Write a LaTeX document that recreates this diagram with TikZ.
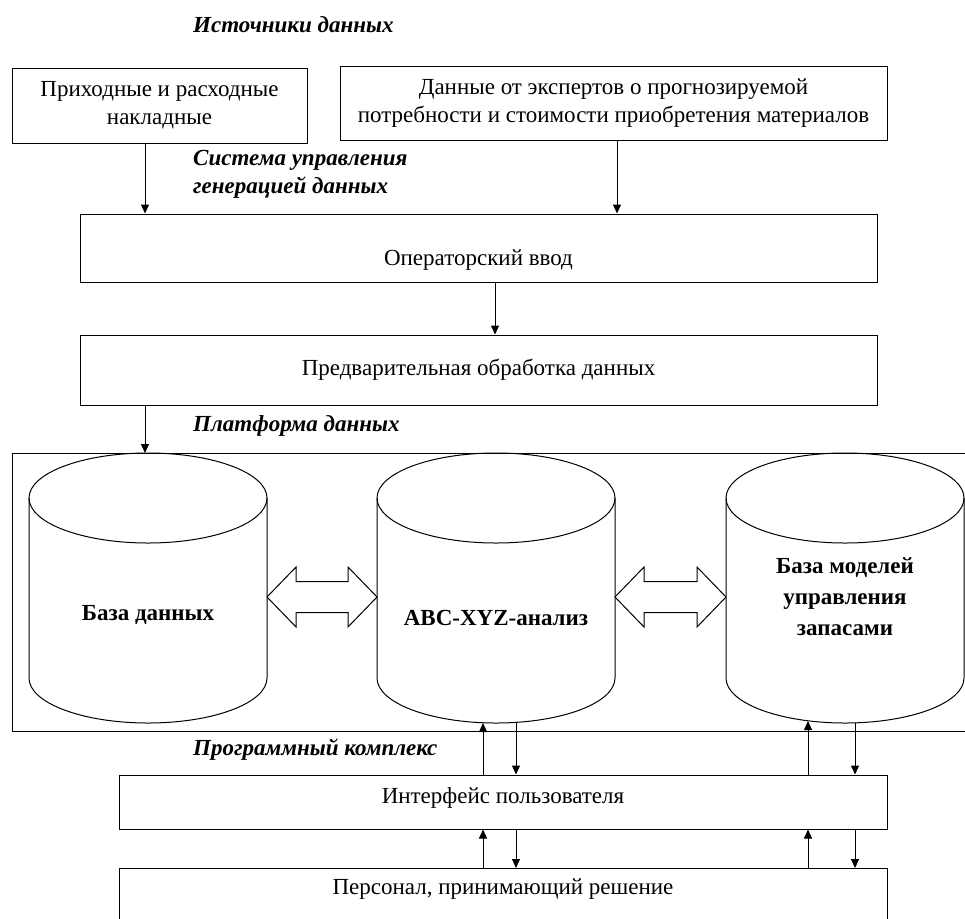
\documentclass[tikz,border=0pt]{standalone}
\usepackage{fontspec}
\setmainfont{Liberation Serif}
\usetikzlibrary{arrows.meta,positioning}

\begin{document}
\begin{tikzpicture}[x=1pt,y=-1pt,
    font=\fontsize{23}{28}\selectfont,
    box/.style={draw,line width=1pt,align=center,inner sep=0pt},
    head/.style={font=\fontsize{23}{28}\selectfont\bfseries\itshape,anchor=west,align=left,inner sep=0pt},
    cyltext/.style={font=\fontsize{23}{31}\selectfont\bfseries,align=center,inner sep=0pt},
    arr/.style={-{Triangle[length=9pt,width=8pt]},line width=1pt}]
  \useasboundingbox (0,0) rectangle (965,918);

  % sources
  \node[head] (srchead) at (193,25) {Источники данных};
  \node[box,minimum width=295pt,minimum height=75pt] (invoices) at (159.5,105.5) {Приходные и расходные\\накладные};
  \node[box,minimum width=547pt,minimum height=74pt] (experts) at (613.5,103) {Данные от экспертов о прогнозируемой\\потребности и стоимости приобретения материалов};

  % data generation
  \node[head] (genhead) at (193,174) {Система управления\\генерацией данных};
  \node[box,minimum width=797pt,minimum height=68pt,text height=40pt] (oper) at (478.5,248) {Операторский  ввод};
  \node[box,minimum width=797pt,minimum height=70pt] (prep) at (478.5,370) {Предварительная  обработка данных};

  \draw[arr] (145,0 |- invoices.south) -- (145,0 |- oper.north);
  \draw[arr] (617,0 |- experts.south) -- (617,0 |- oper.north);
  \draw[arr] (495,0 |- oper.south) -- (495,0 |- prep.north);

  % platform
  \node[head] (plathead) at (193,426) {Платформа данных};
  \node[draw,line width=1pt,anchor=north west,minimum width=956pt,minimum height=278pt,inner sep=0pt] (platform) at (12,453) {};
  \draw[arr] (145,0 |- prep.south) -- (145,0 |- platform.north);

  \foreach \cx in {148,496,845}
  {
    \draw[line width=1pt] (\cx,498) ellipse [x radius=119,y radius=45];
    \draw[line width=1pt] ({\cx-119},498) -- ({\cx-119},678)
      arc[start angle=180,end angle=0,x radius=119,y radius=45] -- ({\cx+119},498);
  }
  \coordinate (abcbase) at (496,723);
  \coordinate (modbase) at (845,723);

  \node[cyltext] (db) at (148,615) {База данных};
  \node[cyltext] (abc) at (496,618) {ABC-XYZ-анализ};
  \node[cyltext] (models) at (845,597) {База моделей\\управления\\запасами};

  \foreach \xl/\xr in {267/377,615/726}
    \draw[line width=1pt] (\xl,597) -- ++(29,-30) -- ++(0,14.5) -- ({\xr-29},581.5) -- ++(0,-14.5)
      -- (\xr,597) -- ({\xr-29},627) -- ++(0,-14.5) -- ({\xl+29},612.5) -- ++(0,14.5) -- cycle;

  % software
  \node[head] (softhead) at (193,750) {Программный комплекс};
  \node[box,minimum width=768pt,minimum height=54pt,text depth=12pt] (ui) at (503,802) {Интерфейс пользователя};
  \node[box,anchor=north,minimum width=768pt,inner ysep=10pt,text depth=45pt] (staff) at (503,868) {Персонал, принимающий решение};

  \draw[arr] (483,0 |- ui.north) -- (483,0 |- abcbase);
  \draw[arr] (516,0 |- abcbase) -- (516,0 |- ui.north);
  \draw[arr] (808,0 |- ui.north) -- (808,721);
  \draw[arr] (855,0 |- modbase) -- (855,0 |- ui.north);

  \draw[arr] (483,0 |- staff.north) -- (483,0 |- ui.south);
  \draw[arr] (516,0 |- ui.south) -- (516,0 |- staff.north);
  \draw[arr] (808,0 |- staff.north) -- (808,0 |- ui.south);
  \draw[arr] (855,0 |- ui.south) -- (855,0 |- staff.north);
\end{tikzpicture}
\end{document}
